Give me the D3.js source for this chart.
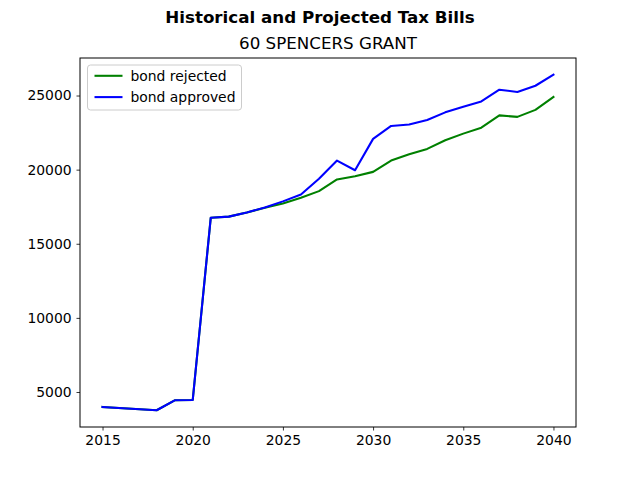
<!DOCTYPE html>
<html>
<head>
<meta charset="utf-8">
<script src="https://cdn.jsdelivr.net/npm/d3@7"></script>
<style>
  body { margin: 0; background: #fff; }
  svg { font-family: "DejaVu Sans", sans-serif; }
</style>
</head>
<body>
<div id="chart"></div>
<script>
const years = [2015, 2018, 2019, 2020, 2021, 2022, 2023, 2024, 2025, 2026, 2027, 2028, 2029, 2030,
  2031, 2032, 2033, 2034, 2035, 2036, 2037, 2038, 2039, 2040]
const bondRejected = [3990, 3770, 4440, 4460, 16760, 16830, 17110, 17430, 17720, 18100, 18550, 19340, 19560, 19850,
  20610, 21040, 21400, 21980, 22430, 22830, 23660, 23560, 24030, 24900]
const bondApproved = [3990, 3770, 4440, 4460, 16760, 16830, 17110, 17450, 17860, 18325, 19380, 20610, 19960, 22075,
  22950, 23040, 23350, 23865, 24250, 24600, 25390, 25240, 25660, 26400]
const seriesNames = ['bond rejected', 'bond approved']
const seriesColors = ['green', 'blue']
const xTicks = [2015, 2020, 2025, 2030, 2035, 2040]
const yTicks = [5000, 10000, 15000, 20000, 25000]

const width = 640, height = 480
const margin = { top: 58, right: 64, bottom: 53, left: 80 }

const svg = d3.select('#chart').append('svg')
  .attr('width', width)
  .attr('height', height)

// matplotlib-like 5% padding on the data range
const xMin = d3.min(years), xMax = d3.max(years)
const allVals = bondRejected.concat(bondApproved)
const yMin = d3.min(allVals), yMax = d3.max(allVals)
const xPad = (xMax - xMin) * 0.05, yPad = (yMax - yMin) * 0.05

const x = d3.scaleLinear()
  .domain([xMin - xPad, xMax + xPad])
  .range([margin.left, width - margin.right])
const y = d3.scaleLinear()
  .domain([yMin - yPad, yMax + yPad])
  .range([height - margin.bottom, margin.top])

// axes
svg.append('g')
  .attr('transform', `translate(0,${height - margin.bottom})`)
  .call(d3.axisBottom(x).tickValues(xTicks).tickFormat(d3.format('d')).tickSize(3.5).tickPadding(4.9))
svg.append('g')
  .attr('transform', `translate(${margin.left},0)`)
  .call(d3.axisLeft(y).tickValues(yTicks).tickFormat(d3.format('d')).tickSize(3.5).tickPadding(4.9))

svg.selectAll('.domain').remove()
svg.selectAll('.tick line').attr('stroke', 'black').attr('stroke-width', 0.8)
svg.selectAll('.tick text')
  .attr('font-size', 13.9)
  .attr('font-family', '"DejaVu Sans", sans-serif')
  .attr('fill', 'black')

// lines
const series = [bondRejected, bondApproved]
const line = d3.line()
  .x((d, i) => x(years[i]))
  .y(d => y(d))

svg.append('g')
  .selectAll('path')
  .data(series)
  .enter()
  .append('path')
  .attr('d', d => line(d))
  .attr('fill', 'none')
  .attr('stroke', (d, i) => seriesColors[i])
  .attr('stroke-width', 2.08)
  .attr('stroke-linejoin', 'round')
  .attr('stroke-linecap', 'square')

// frame
svg.append('rect')
  .attr('x', margin.left)
  .attr('y', margin.top)
  .attr('width', width - margin.left - margin.right)
  .attr('height', height - margin.top - margin.bottom)
  .attr('fill', 'none')
  .attr('stroke', 'black')
  .attr('stroke-width', 1)

// legend
const legend = svg.append('g').attr('transform', `translate(${margin.left + 7.5},${margin.top + 7})`)
legend.append('rect')
  .attr('width', 154)
  .attr('height', 45)
  .attr('rx', 3)
  .attr('fill', 'white')
  .attr('fill-opacity', 0.8)
  .attr('stroke', '#cccccc')
  .attr('stroke-width', 1)
legend.selectAll('.legend_line')
  .data(seriesNames)
  .enter()
  .append('line')
  .attr('x1', 7)
  .attr('x2', 35)
  .attr('y1', (d, i) => 10.8 + i * 21.3)
  .attr('y2', (d, i) => 10.8 + i * 21.3)
  .attr('stroke', (d, i) => seriesColors[i])
  .attr('stroke-width', 2.08)
legend.selectAll('.legend_labels')
  .data(seriesNames)
  .enter()
  .append('text')
  .attr('x', 43)
  .attr('y', (d, i) => 10.8 + i * 21.3)
  .attr('dominant-baseline', 'central')
  .attr('font-size', 13.9)
  .attr('fill', 'black')
  .text(d => d)

// titles
svg.append('text')
  .attr('x', width / 2)
  .attr('y', 22.5)
  .attr('text-anchor', 'middle')
  .attr('font-size', 16.7)
  .attr('font-weight', 'bold')
  .text('Historical and Projected Tax Bills')
svg.append('text')
  .attr('x', (margin.left + width - margin.right) / 2)
  .attr('y', 49)
  .attr('text-anchor', 'middle')
  .attr('font-size', 16.7)
  .text('60 SPENCERS GRANT')
</script>
</body>
</html>
